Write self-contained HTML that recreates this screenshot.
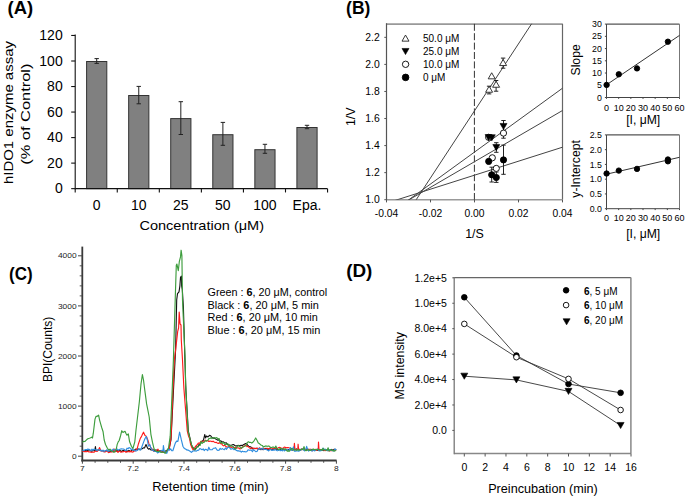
<!DOCTYPE html>
<html><head><meta charset="utf-8"><style>
html,body{margin:0;padding:0;background:#fff;}
svg{display:block;}
text{font-family:"Liberation Sans",sans-serif;}
</style></head><body>
<svg width="685" height="498" viewBox="0 0 685 498">
<rect width="685" height="498" fill="#fff"/>
<text x="7.60" y="13.90" font-size="17.5" text-anchor="start" font-weight="bold" fill="#000"  textLength="25.6" lengthAdjust="spacingAndGlyphs">(A)</text>
<rect x="86.60" y="61.50" width="20.2" height="127.15" fill="#808080" stroke="#333" stroke-width="1"/>
<line x1="96.70" y1="58.60" x2="96.70" y2="63.40" stroke="#222" stroke-width="1" />
<line x1="94.50" y1="58.60" x2="98.90" y2="58.60" stroke="#222" stroke-width="1" />
<line x1="94.50" y1="63.40" x2="98.90" y2="63.40" stroke="#222" stroke-width="1" />
<rect x="128.66" y="95.50" width="20.2" height="93.15" fill="#808080" stroke="#333" stroke-width="1"/>
<line x1="138.76" y1="86.40" x2="138.76" y2="103.80" stroke="#222" stroke-width="1" />
<line x1="136.56" y1="86.40" x2="140.96" y2="86.40" stroke="#222" stroke-width="1" />
<line x1="136.56" y1="103.80" x2="140.96" y2="103.80" stroke="#222" stroke-width="1" />
<rect x="170.72" y="118.60" width="20.2" height="70.05" fill="#808080" stroke="#333" stroke-width="1"/>
<line x1="180.82" y1="101.70" x2="180.82" y2="134.50" stroke="#222" stroke-width="1" />
<line x1="178.62" y1="101.70" x2="183.02" y2="101.70" stroke="#222" stroke-width="1" />
<line x1="178.62" y1="134.50" x2="183.02" y2="134.50" stroke="#222" stroke-width="1" />
<rect x="212.78" y="134.70" width="20.2" height="53.95" fill="#808080" stroke="#333" stroke-width="1"/>
<line x1="222.88" y1="122.40" x2="222.88" y2="145.30" stroke="#222" stroke-width="1" />
<line x1="220.68" y1="122.40" x2="225.08" y2="122.40" stroke="#222" stroke-width="1" />
<line x1="220.68" y1="145.30" x2="225.08" y2="145.30" stroke="#222" stroke-width="1" />
<rect x="254.84" y="149.70" width="20.2" height="38.95" fill="#808080" stroke="#333" stroke-width="1"/>
<line x1="264.94" y1="144.30" x2="264.94" y2="153.30" stroke="#222" stroke-width="1" />
<line x1="262.74" y1="144.30" x2="267.14" y2="144.30" stroke="#222" stroke-width="1" />
<line x1="262.74" y1="153.30" x2="267.14" y2="153.30" stroke="#222" stroke-width="1" />
<rect x="296.90" y="127.50" width="20.2" height="61.15" fill="#808080" stroke="#333" stroke-width="1"/>
<line x1="307.00" y1="125.30" x2="307.00" y2="128.70" stroke="#222" stroke-width="1" />
<line x1="304.80" y1="125.30" x2="309.20" y2="125.30" stroke="#222" stroke-width="1" />
<line x1="304.80" y1="128.70" x2="309.20" y2="128.70" stroke="#222" stroke-width="1" />
<line x1="75.20" y1="34.60" x2="75.20" y2="189.15" stroke="#111" stroke-width="1.1" />
<line x1="75.20" y1="188.65" x2="327.56" y2="188.65" stroke="#111" stroke-width="1.1" />
<line x1="71.20" y1="188.65" x2="75.20" y2="188.65" stroke="#111" stroke-width="1.1" />
<text x="62.70" y="193.15" font-size="14" text-anchor="end" font-weight="normal" fill="#000" >0</text>
<line x1="71.20" y1="163.12" x2="75.20" y2="163.12" stroke="#111" stroke-width="1.1" />
<text x="62.70" y="167.62" font-size="14" text-anchor="end" font-weight="normal" fill="#000" >20</text>
<line x1="71.20" y1="137.59" x2="75.20" y2="137.59" stroke="#111" stroke-width="1.1" />
<text x="62.70" y="142.09" font-size="14" text-anchor="end" font-weight="normal" fill="#000" >40</text>
<line x1="71.20" y1="112.06" x2="75.20" y2="112.06" stroke="#111" stroke-width="1.1" />
<text x="62.70" y="116.56" font-size="14" text-anchor="end" font-weight="normal" fill="#000" >60</text>
<line x1="71.20" y1="86.53" x2="75.20" y2="86.53" stroke="#111" stroke-width="1.1" />
<text x="62.70" y="91.03" font-size="14" text-anchor="end" font-weight="normal" fill="#000" >80</text>
<line x1="71.20" y1="61.00" x2="75.20" y2="61.00" stroke="#111" stroke-width="1.1" />
<text x="62.70" y="65.50" font-size="14" text-anchor="end" font-weight="normal" fill="#000" >100</text>
<line x1="71.20" y1="35.47" x2="75.20" y2="35.47" stroke="#111" stroke-width="1.1" />
<text x="62.70" y="39.97" font-size="14" text-anchor="end" font-weight="normal" fill="#000" >120</text>
<line x1="75.20" y1="188.65" x2="75.20" y2="192.45" stroke="#111" stroke-width="1.1" />
<line x1="117.26" y1="188.65" x2="117.26" y2="192.45" stroke="#111" stroke-width="1.1" />
<line x1="159.32" y1="188.65" x2="159.32" y2="192.45" stroke="#111" stroke-width="1.1" />
<line x1="201.38" y1="188.65" x2="201.38" y2="192.45" stroke="#111" stroke-width="1.1" />
<line x1="243.44" y1="188.65" x2="243.44" y2="192.45" stroke="#111" stroke-width="1.1" />
<line x1="285.50" y1="188.65" x2="285.50" y2="192.45" stroke="#111" stroke-width="1.1" />
<line x1="327.56" y1="188.65" x2="327.56" y2="192.45" stroke="#111" stroke-width="1.1" />
<text x="96.70" y="209.90" font-size="14" text-anchor="middle" font-weight="normal" fill="#000" >0</text>
<text x="138.76" y="209.90" font-size="14" text-anchor="middle" font-weight="normal" fill="#000" >10</text>
<text x="180.82" y="209.90" font-size="14" text-anchor="middle" font-weight="normal" fill="#000" >25</text>
<text x="222.88" y="209.90" font-size="14" text-anchor="middle" font-weight="normal" fill="#000" >50</text>
<text x="264.94" y="209.90" font-size="14" text-anchor="middle" font-weight="normal" fill="#000" >100</text>
<text x="307.00" y="209.90" font-size="14" text-anchor="middle" font-weight="normal" fill="#000" >Epa.</text>
<text x="201.75" y="229.70" font-size="13.5" text-anchor="middle" font-weight="normal" fill="#000"  textLength="124.6" lengthAdjust="spacingAndGlyphs">Concentration (μM)</text>
<text x="0.00" y="0.00" font-size="13.5" text-anchor="middle" font-weight="normal" fill="#000" transform="translate(12.5,112.55) rotate(-90)" textLength="143.0" lengthAdjust="spacingAndGlyphs">hIDO1 enzyme assay</text>
<text x="0.00" y="0.00" font-size="13.5" text-anchor="middle" font-weight="normal" fill="#000" transform="translate(29.7,114.2) rotate(-90)" textLength="101.3" lengthAdjust="spacingAndGlyphs">(% of Control)</text>
<text x="346.10" y="13.90" font-size="17.5" text-anchor="start" font-weight="bold" fill="#000"  textLength="24.2" lengthAdjust="spacingAndGlyphs">(B)</text>
<line x1="386.50" y1="24.10" x2="562.50" y2="24.10" stroke="#999" stroke-width="1.6" />
<line x1="562.50" y1="23.80" x2="562.50" y2="199.70" stroke="#666" stroke-width="1.2" />
<line x1="386.50" y1="199.70" x2="562.50" y2="199.70" stroke="#999" stroke-width="1.5" />
<line x1="386.50" y1="23.20" x2="386.50" y2="200.30" stroke="#555" stroke-width="1.2" />
<line x1="384.30" y1="199.70" x2="386.50" y2="199.70" stroke="#555" stroke-width="1" />
<text x="379.70" y="203.30" font-size="10.4" text-anchor="end" font-weight="normal" fill="#000" >1.0</text>
<line x1="384.30" y1="172.64" x2="386.50" y2="172.64" stroke="#555" stroke-width="1" />
<text x="379.70" y="176.24" font-size="10.4" text-anchor="end" font-weight="normal" fill="#000" >1.2</text>
<line x1="384.30" y1="145.58" x2="386.50" y2="145.58" stroke="#555" stroke-width="1" />
<text x="379.70" y="149.18" font-size="10.4" text-anchor="end" font-weight="normal" fill="#000" >1.4</text>
<line x1="384.30" y1="118.52" x2="386.50" y2="118.52" stroke="#555" stroke-width="1" />
<text x="379.70" y="122.12" font-size="10.4" text-anchor="end" font-weight="normal" fill="#000" >1.6</text>
<line x1="384.30" y1="91.46" x2="386.50" y2="91.46" stroke="#555" stroke-width="1" />
<text x="379.70" y="95.06" font-size="10.4" text-anchor="end" font-weight="normal" fill="#000" >1.8</text>
<line x1="384.30" y1="64.40" x2="386.50" y2="64.40" stroke="#555" stroke-width="1" />
<text x="379.70" y="68.00" font-size="10.4" text-anchor="end" font-weight="normal" fill="#000" >2.0</text>
<line x1="384.30" y1="37.34" x2="386.50" y2="37.34" stroke="#555" stroke-width="1" />
<text x="379.70" y="40.94" font-size="10.4" text-anchor="end" font-weight="normal" fill="#000" >2.2</text>
<line x1="386.50" y1="199.70" x2="386.50" y2="202.40" stroke="#555" stroke-width="1" />
<text x="386.50" y="216.90" font-size="10.3" text-anchor="middle" font-weight="normal" fill="#000" >-0.04</text>
<line x1="430.50" y1="199.70" x2="430.50" y2="202.40" stroke="#555" stroke-width="1" />
<text x="430.50" y="216.90" font-size="10.3" text-anchor="middle" font-weight="normal" fill="#000" >-0.02</text>
<line x1="474.50" y1="199.70" x2="474.50" y2="202.40" stroke="#555" stroke-width="1" />
<text x="474.50" y="216.90" font-size="10.3" text-anchor="middle" font-weight="normal" fill="#000" >0.00</text>
<line x1="518.50" y1="199.70" x2="518.50" y2="202.40" stroke="#555" stroke-width="1" />
<text x="518.50" y="216.90" font-size="10.3" text-anchor="middle" font-weight="normal" fill="#000" >0.02</text>
<line x1="562.50" y1="199.70" x2="562.50" y2="202.40" stroke="#555" stroke-width="1" />
<text x="562.50" y="216.90" font-size="10.3" text-anchor="middle" font-weight="normal" fill="#000" >0.04</text>
<text x="474.50" y="238.10" font-size="12.4" text-anchor="middle" font-weight="normal" fill="#000" >1/S</text>
<text x="0.00" y="0.00" font-size="12.4" text-anchor="middle" font-weight="normal" fill="#000" transform="translate(355.1,116.8) rotate(-90)">1/V</text>
<line x1="474.40" y1="23.80" x2="474.40" y2="199.70" stroke="#333" stroke-width="1" stroke-dasharray="7 2.4"/>
<clipPath id="cb"><rect x="386.5" y="23.8" width="176.0" height="175.89999999999998"/></clipPath>
<g clip-path="url(#cb)">
<line x1="67.20" y1="304.70" x2="892.70" y2="42.20" stroke="#444" stroke-width="1" />
<line x1="102.60" y1="378.10" x2="869.10" y2="-67.90" stroke="#444" stroke-width="1" />
<line x1="101.70" y1="422.70" x2="869.70" y2="-134.80" stroke="#444" stroke-width="1" />
<line x1="185.40" y1="551.50" x2="762.40" y2="-328.00" stroke="#444" stroke-width="1" />
</g>
<line x1="489.10" y1="86.20" x2="489.10" y2="93.90" stroke="#222" stroke-width="1" />
<line x1="486.90" y1="86.20" x2="491.30" y2="86.20" stroke="#222" stroke-width="1" />
<line x1="486.90" y1="93.90" x2="491.30" y2="93.90" stroke="#222" stroke-width="1" />
<line x1="496.10" y1="80.50" x2="496.10" y2="91.20" stroke="#222" stroke-width="1" />
<line x1="493.90" y1="80.50" x2="498.30" y2="80.50" stroke="#222" stroke-width="1" />
<line x1="493.90" y1="91.20" x2="498.30" y2="91.20" stroke="#222" stroke-width="1" />
<line x1="503.10" y1="58.10" x2="503.10" y2="68.20" stroke="#222" stroke-width="1" />
<line x1="500.90" y1="58.10" x2="505.30" y2="58.10" stroke="#222" stroke-width="1" />
<line x1="500.90" y1="68.20" x2="505.30" y2="68.20" stroke="#222" stroke-width="1" />
<line x1="496.30" y1="142.70" x2="496.30" y2="152.30" stroke="#222" stroke-width="1" />
<line x1="494.10" y1="142.70" x2="498.50" y2="142.70" stroke="#222" stroke-width="1" />
<line x1="494.10" y1="152.30" x2="498.50" y2="152.30" stroke="#222" stroke-width="1" />
<line x1="503.50" y1="120.50" x2="503.50" y2="138.20" stroke="#222" stroke-width="1" />
<line x1="501.30" y1="120.50" x2="505.70" y2="120.50" stroke="#222" stroke-width="1" />
<line x1="501.30" y1="138.20" x2="505.70" y2="138.20" stroke="#222" stroke-width="1" />
<line x1="503.50" y1="145.10" x2="503.50" y2="174.30" stroke="#222" stroke-width="1" />
<line x1="501.30" y1="145.10" x2="505.70" y2="145.10" stroke="#222" stroke-width="1" />
<line x1="501.30" y1="174.30" x2="505.70" y2="174.30" stroke="#222" stroke-width="1" />
<line x1="491.70" y1="167.20" x2="491.70" y2="182.00" stroke="#222" stroke-width="1" />
<line x1="489.50" y1="167.20" x2="493.90" y2="167.20" stroke="#222" stroke-width="1" />
<line x1="489.50" y1="182.00" x2="493.90" y2="182.00" stroke="#222" stroke-width="1" />
<line x1="496.30" y1="172.00" x2="496.30" y2="182.40" stroke="#222" stroke-width="1" />
<line x1="494.10" y1="172.00" x2="498.50" y2="172.00" stroke="#222" stroke-width="1" />
<line x1="494.10" y1="182.40" x2="498.50" y2="182.40" stroke="#222" stroke-width="1" />
<polygon points="485.60,92.25 492.60,92.25 489.10,86.16" fill="#fff" stroke="#222" stroke-width="0.9"/>
<polygon points="488.20,78.84 495.20,78.84 491.70,72.75" fill="#fff" stroke="#222" stroke-width="0.9"/>
<polygon points="492.60,87.25 499.60,87.25 496.10,81.16" fill="#fff" stroke="#222" stroke-width="0.9"/>
<polygon points="499.60,65.55 506.60,65.55 503.10,59.45" fill="#fff" stroke="#222" stroke-width="0.9"/>
<circle cx="488.60" cy="137.30" r="3.1" fill="#fff" stroke="#000" stroke-width="0.9"/>
<circle cx="503.50" cy="133.10" r="3.1" fill="#fff" stroke="#000" stroke-width="0.9"/>
<circle cx="492.30" cy="157.80" r="3.1" fill="#fff" stroke="#000" stroke-width="0.9"/>
<circle cx="496.30" cy="168.40" r="3.1" fill="#fff" stroke="#000" stroke-width="0.9"/>
<polygon points="485.10,134.56 492.10,134.56 488.60,140.64" fill="#000" stroke="#000" stroke-width="0.6"/>
<polygon points="488.30,134.76 495.30,134.76 491.80,140.84" fill="#000" stroke="#000" stroke-width="0.6"/>
<polygon points="492.80,144.56 499.80,144.56 496.30,150.64" fill="#000" stroke="#000" stroke-width="0.6"/>
<polygon points="500.00,123.45 507.00,123.45 503.50,129.54" fill="#000" stroke="#000" stroke-width="0.6"/>
<circle cx="488.70" cy="161.40" r="3.1" fill="#000" stroke="#000" stroke-width="0.9"/>
<circle cx="503.50" cy="159.90" r="3.1" fill="#000" stroke="#000" stroke-width="0.9"/>
<circle cx="491.70" cy="174.80" r="3.1" fill="#000" stroke="#000" stroke-width="0.9"/>
<circle cx="496.30" cy="177.50" r="3.1" fill="#000" stroke="#000" stroke-width="0.9"/>
<polygon points="402.00,41.15 409.00,41.15 405.50,35.05" fill="#fff" stroke="#222" stroke-width="0.9"/>
<polygon points="402.00,48.45 409.00,48.45 405.50,54.55" fill="#000" stroke="#000" stroke-width="0.6"/>
<circle cx="405.60" cy="64.30" r="3.2" fill="#fff" stroke="#000" stroke-width="0.9"/>
<circle cx="405.60" cy="77.40" r="3.3" fill="#000" stroke="#000" stroke-width="0.9"/>
<text x="423.00" y="41.90" font-size="10" text-anchor="start" font-weight="normal" fill="#000" >50.0 μM</text>
<text x="423.00" y="54.90" font-size="10" text-anchor="start" font-weight="normal" fill="#000" >25.0 μM</text>
<text x="423.00" y="67.90" font-size="10" text-anchor="start" font-weight="normal" fill="#000" >10.0 μM</text>
<text x="423.00" y="80.90" font-size="10" text-anchor="start" font-weight="normal" fill="#000" >0 μM</text>
<line x1="606.50" y1="24.10" x2="679.50" y2="24.10" stroke="#555" stroke-width="1.1" />
<line x1="679.50" y1="24.10" x2="679.50" y2="97.50" stroke="#777" stroke-width="1" />
<line x1="606.50" y1="97.50" x2="679.50" y2="97.50" stroke="#444" stroke-width="1" />
<line x1="606.50" y1="24.10" x2="606.50" y2="97.50" stroke="#444" stroke-width="1" />
<line x1="604.90" y1="97.50" x2="606.50" y2="97.50" stroke="#444" stroke-width="1" />
<text x="601.90" y="100.60" font-size="8.8" text-anchor="end" font-weight="normal" fill="#000" >0</text>
<line x1="604.90" y1="85.27" x2="606.50" y2="85.27" stroke="#444" stroke-width="1" />
<text x="601.90" y="88.37" font-size="8.8" text-anchor="end" font-weight="normal" fill="#000" >5</text>
<line x1="604.90" y1="73.03" x2="606.50" y2="73.03" stroke="#444" stroke-width="1" />
<text x="601.90" y="76.13" font-size="8.8" text-anchor="end" font-weight="normal" fill="#000" >10</text>
<line x1="604.90" y1="60.80" x2="606.50" y2="60.80" stroke="#444" stroke-width="1" />
<text x="601.90" y="63.90" font-size="8.8" text-anchor="end" font-weight="normal" fill="#000" >15</text>
<line x1="604.90" y1="48.57" x2="606.50" y2="48.57" stroke="#444" stroke-width="1" />
<text x="601.90" y="51.67" font-size="8.8" text-anchor="end" font-weight="normal" fill="#000" >20</text>
<line x1="604.90" y1="36.33" x2="606.50" y2="36.33" stroke="#444" stroke-width="1" />
<text x="601.90" y="39.43" font-size="8.8" text-anchor="end" font-weight="normal" fill="#000" >25</text>
<line x1="604.90" y1="24.10" x2="606.50" y2="24.10" stroke="#444" stroke-width="1" />
<text x="601.90" y="27.20" font-size="8.8" text-anchor="end" font-weight="normal" fill="#000" >30</text>
<line x1="606.50" y1="97.50" x2="606.50" y2="98.90" stroke="#444" stroke-width="1" />
<text x="606.50" y="110.90" font-size="9" text-anchor="middle" font-weight="normal" fill="#000" >0</text>
<line x1="618.67" y1="97.50" x2="618.67" y2="98.90" stroke="#444" stroke-width="1" />
<text x="618.67" y="110.90" font-size="9" text-anchor="middle" font-weight="normal" fill="#000" >10</text>
<line x1="630.83" y1="97.50" x2="630.83" y2="98.90" stroke="#444" stroke-width="1" />
<text x="630.83" y="110.90" font-size="9" text-anchor="middle" font-weight="normal" fill="#000" >20</text>
<line x1="643.00" y1="97.50" x2="643.00" y2="98.90" stroke="#444" stroke-width="1" />
<text x="643.00" y="110.90" font-size="9" text-anchor="middle" font-weight="normal" fill="#000" >30</text>
<line x1="655.17" y1="97.50" x2="655.17" y2="98.90" stroke="#444" stroke-width="1" />
<text x="655.17" y="110.90" font-size="9" text-anchor="middle" font-weight="normal" fill="#000" >40</text>
<line x1="667.33" y1="97.50" x2="667.33" y2="98.90" stroke="#444" stroke-width="1" />
<text x="667.33" y="110.90" font-size="9" text-anchor="middle" font-weight="normal" fill="#000" >50</text>
<line x1="679.50" y1="97.50" x2="679.50" y2="98.90" stroke="#444" stroke-width="1" />
<text x="679.50" y="110.90" font-size="9" text-anchor="middle" font-weight="normal" fill="#000" >60</text>
<text x="643.20" y="124.10" font-size="12.2" text-anchor="middle" font-weight="normal" fill="#000" >[I, μM]</text>
<text x="0.00" y="0.00" font-size="12.2" text-anchor="middle" font-weight="normal" fill="#000" transform="translate(580.1,59.9) rotate(-90)">Slope</text>
<line x1="606.50" y1="84.80" x2="679.50" y2="35.40" stroke="#333" stroke-width="1" />
<circle cx="606.60" cy="84.90" r="2.7" fill="#000" stroke="#000" stroke-width="0.9"/>
<circle cx="618.80" cy="74.30" r="2.7" fill="#000" stroke="#000" stroke-width="0.9"/>
<circle cx="637.00" cy="68.40" r="2.7" fill="#000" stroke="#000" stroke-width="0.9"/>
<circle cx="667.90" cy="41.70" r="2.7" fill="#000" stroke="#000" stroke-width="0.9"/>
<line x1="606.50" y1="134.90" x2="679.50" y2="134.90" stroke="#555" stroke-width="1.1" />
<line x1="679.50" y1="134.90" x2="679.50" y2="208.70" stroke="#777" stroke-width="1" />
<line x1="606.50" y1="208.70" x2="679.50" y2="208.70" stroke="#444" stroke-width="1" />
<line x1="606.50" y1="134.90" x2="606.50" y2="208.70" stroke="#444" stroke-width="1" />
<line x1="604.90" y1="208.70" x2="606.50" y2="208.70" stroke="#444" stroke-width="1" />
<text x="601.90" y="211.80" font-size="8.8" text-anchor="end" font-weight="normal" fill="#000" >0.0</text>
<line x1="604.90" y1="193.94" x2="606.50" y2="193.94" stroke="#444" stroke-width="1" />
<text x="601.90" y="197.04" font-size="8.8" text-anchor="end" font-weight="normal" fill="#000" >0.5</text>
<line x1="604.90" y1="179.18" x2="606.50" y2="179.18" stroke="#444" stroke-width="1" />
<text x="601.90" y="182.28" font-size="8.8" text-anchor="end" font-weight="normal" fill="#000" >1.0</text>
<line x1="604.90" y1="164.42" x2="606.50" y2="164.42" stroke="#444" stroke-width="1" />
<text x="601.90" y="167.52" font-size="8.8" text-anchor="end" font-weight="normal" fill="#000" >1.5</text>
<line x1="604.90" y1="149.66" x2="606.50" y2="149.66" stroke="#444" stroke-width="1" />
<text x="601.90" y="152.76" font-size="8.8" text-anchor="end" font-weight="normal" fill="#000" >2.0</text>
<line x1="604.90" y1="134.90" x2="606.50" y2="134.90" stroke="#444" stroke-width="1" />
<text x="601.90" y="138.00" font-size="8.8" text-anchor="end" font-weight="normal" fill="#000" >2.5</text>
<line x1="606.50" y1="208.70" x2="606.50" y2="210.10" stroke="#444" stroke-width="1" />
<text x="606.50" y="220.90" font-size="9" text-anchor="middle" font-weight="normal" fill="#000" >0</text>
<line x1="618.67" y1="208.70" x2="618.67" y2="210.10" stroke="#444" stroke-width="1" />
<text x="618.67" y="220.90" font-size="9" text-anchor="middle" font-weight="normal" fill="#000" >10</text>
<line x1="630.83" y1="208.70" x2="630.83" y2="210.10" stroke="#444" stroke-width="1" />
<text x="630.83" y="220.90" font-size="9" text-anchor="middle" font-weight="normal" fill="#000" >20</text>
<line x1="643.00" y1="208.70" x2="643.00" y2="210.10" stroke="#444" stroke-width="1" />
<text x="643.00" y="220.90" font-size="9" text-anchor="middle" font-weight="normal" fill="#000" >30</text>
<line x1="655.17" y1="208.70" x2="655.17" y2="210.10" stroke="#444" stroke-width="1" />
<text x="655.17" y="220.90" font-size="9" text-anchor="middle" font-weight="normal" fill="#000" >40</text>
<line x1="667.33" y1="208.70" x2="667.33" y2="210.10" stroke="#444" stroke-width="1" />
<text x="667.33" y="220.90" font-size="9" text-anchor="middle" font-weight="normal" fill="#000" >50</text>
<line x1="679.50" y1="208.70" x2="679.50" y2="210.10" stroke="#444" stroke-width="1" />
<text x="679.50" y="220.90" font-size="9" text-anchor="middle" font-weight="normal" fill="#000" >60</text>
<text x="643.20" y="238.30" font-size="12.2" text-anchor="middle" font-weight="normal" fill="#000" >[I, μM]</text>
<text x="0.00" y="0.00" font-size="12.2" text-anchor="middle" font-weight="normal" fill="#000" transform="translate(580.1,168.9) rotate(-90)">y-Intercept</text>
<line x1="606.50" y1="174.20" x2="679.50" y2="157.30" stroke="#333" stroke-width="1" />
<circle cx="606.60" cy="173.50" r="2.7" fill="#000" stroke="#000" stroke-width="0.9"/>
<circle cx="618.80" cy="170.60" r="2.7" fill="#000" stroke="#000" stroke-width="0.9"/>
<circle cx="637.00" cy="168.90" r="2.7" fill="#000" stroke="#000" stroke-width="0.9"/>
<circle cx="667.90" cy="159.50" r="2.7" fill="#000" stroke="#000" stroke-width="0.9"/>
<circle cx="667.90" cy="161.30" r="2.7" fill="#000" stroke="#000" stroke-width="0.9"/>
<text x="9.00" y="280.40" font-size="17.5" text-anchor="start" font-weight="bold" fill="#000"  textLength="23.6" lengthAdjust="spacingAndGlyphs">(C)</text>
<line x1="82.30" y1="246.60" x2="82.30" y2="461.50" stroke="#3a3a3a" stroke-width="1.8" />
<line x1="81.40" y1="460.50" x2="336.60" y2="460.50" stroke="#3a3a3a" stroke-width="1.8" />
<line x1="78.00" y1="456.20" x2="82.30" y2="456.20" stroke="#444" stroke-width="1" />
<text x="76.60" y="458.80" font-size="7.5" text-anchor="end" font-weight="normal" fill="#222"  textLength="4.67" lengthAdjust="spacingAndGlyphs">0</text>
<line x1="79.70" y1="446.18" x2="82.30" y2="446.18" stroke="#444" stroke-width="0.9" />
<line x1="79.70" y1="436.16" x2="82.30" y2="436.16" stroke="#444" stroke-width="0.9" />
<line x1="79.70" y1="426.14" x2="82.30" y2="426.14" stroke="#444" stroke-width="0.9" />
<line x1="79.70" y1="416.12" x2="82.30" y2="416.12" stroke="#444" stroke-width="0.9" />
<line x1="78.00" y1="406.10" x2="82.30" y2="406.10" stroke="#444" stroke-width="1" />
<text x="76.60" y="408.70" font-size="7.5" text-anchor="end" font-weight="normal" fill="#222"  textLength="18.68" lengthAdjust="spacingAndGlyphs">1000</text>
<line x1="79.70" y1="396.08" x2="82.30" y2="396.08" stroke="#444" stroke-width="0.9" />
<line x1="79.70" y1="386.06" x2="82.30" y2="386.06" stroke="#444" stroke-width="0.9" />
<line x1="79.70" y1="376.04" x2="82.30" y2="376.04" stroke="#444" stroke-width="0.9" />
<line x1="79.70" y1="366.02" x2="82.30" y2="366.02" stroke="#444" stroke-width="0.9" />
<line x1="78.00" y1="356.00" x2="82.30" y2="356.00" stroke="#444" stroke-width="1" />
<text x="76.60" y="358.60" font-size="7.5" text-anchor="end" font-weight="normal" fill="#222"  textLength="18.68" lengthAdjust="spacingAndGlyphs">2000</text>
<line x1="79.70" y1="345.98" x2="82.30" y2="345.98" stroke="#444" stroke-width="0.9" />
<line x1="79.70" y1="335.96" x2="82.30" y2="335.96" stroke="#444" stroke-width="0.9" />
<line x1="79.70" y1="325.94" x2="82.30" y2="325.94" stroke="#444" stroke-width="0.9" />
<line x1="79.70" y1="315.92" x2="82.30" y2="315.92" stroke="#444" stroke-width="0.9" />
<line x1="78.00" y1="305.90" x2="82.30" y2="305.90" stroke="#444" stroke-width="1" />
<text x="76.60" y="308.50" font-size="7.5" text-anchor="end" font-weight="normal" fill="#222"  textLength="18.68" lengthAdjust="spacingAndGlyphs">3000</text>
<line x1="79.70" y1="295.88" x2="82.30" y2="295.88" stroke="#444" stroke-width="0.9" />
<line x1="79.70" y1="285.86" x2="82.30" y2="285.86" stroke="#444" stroke-width="0.9" />
<line x1="79.70" y1="275.84" x2="82.30" y2="275.84" stroke="#444" stroke-width="0.9" />
<line x1="79.70" y1="265.82" x2="82.30" y2="265.82" stroke="#444" stroke-width="0.9" />
<line x1="78.00" y1="255.80" x2="82.30" y2="255.80" stroke="#444" stroke-width="1" />
<text x="76.60" y="258.40" font-size="7.5" text-anchor="end" font-weight="normal" fill="#222"  textLength="18.68" lengthAdjust="spacingAndGlyphs">4000</text>
<line x1="82.40" y1="460.50" x2="82.40" y2="463.70" stroke="#444" stroke-width="1" />
<text x="82.40" y="471.30" font-size="7.5" text-anchor="middle" font-weight="normal" fill="#222"  textLength="4.67" lengthAdjust="spacingAndGlyphs">7</text>
<line x1="95.10" y1="460.50" x2="95.10" y2="462.80" stroke="#444" stroke-width="0.9" />
<line x1="107.80" y1="460.50" x2="107.80" y2="462.80" stroke="#444" stroke-width="0.9" />
<line x1="120.50" y1="460.50" x2="120.50" y2="462.80" stroke="#444" stroke-width="0.9" />
<line x1="133.20" y1="460.50" x2="133.20" y2="463.70" stroke="#444" stroke-width="1" />
<text x="133.20" y="471.30" font-size="7.5" text-anchor="middle" font-weight="normal" fill="#222"  textLength="11.68" lengthAdjust="spacingAndGlyphs">7.2</text>
<line x1="145.90" y1="460.50" x2="145.90" y2="462.80" stroke="#444" stroke-width="0.9" />
<line x1="158.60" y1="460.50" x2="158.60" y2="462.80" stroke="#444" stroke-width="0.9" />
<line x1="171.30" y1="460.50" x2="171.30" y2="462.80" stroke="#444" stroke-width="0.9" />
<line x1="184.00" y1="460.50" x2="184.00" y2="463.70" stroke="#444" stroke-width="1" />
<text x="184.00" y="471.30" font-size="7.5" text-anchor="middle" font-weight="normal" fill="#222"  textLength="11.68" lengthAdjust="spacingAndGlyphs">7.4</text>
<line x1="196.70" y1="460.50" x2="196.70" y2="462.80" stroke="#444" stroke-width="0.9" />
<line x1="209.40" y1="460.50" x2="209.40" y2="462.80" stroke="#444" stroke-width="0.9" />
<line x1="222.10" y1="460.50" x2="222.10" y2="462.80" stroke="#444" stroke-width="0.9" />
<line x1="234.80" y1="460.50" x2="234.80" y2="463.70" stroke="#444" stroke-width="1" />
<text x="234.80" y="471.30" font-size="7.5" text-anchor="middle" font-weight="normal" fill="#222"  textLength="11.68" lengthAdjust="spacingAndGlyphs">7.6</text>
<line x1="247.50" y1="460.50" x2="247.50" y2="462.80" stroke="#444" stroke-width="0.9" />
<line x1="260.20" y1="460.50" x2="260.20" y2="462.80" stroke="#444" stroke-width="0.9" />
<line x1="272.90" y1="460.50" x2="272.90" y2="462.80" stroke="#444" stroke-width="0.9" />
<line x1="285.60" y1="460.50" x2="285.60" y2="463.70" stroke="#444" stroke-width="1" />
<text x="285.60" y="471.30" font-size="7.5" text-anchor="middle" font-weight="normal" fill="#222"  textLength="11.68" lengthAdjust="spacingAndGlyphs">7.8</text>
<line x1="298.30" y1="460.50" x2="298.30" y2="462.80" stroke="#444" stroke-width="0.9" />
<line x1="311.00" y1="460.50" x2="311.00" y2="462.80" stroke="#444" stroke-width="0.9" />
<line x1="323.70" y1="460.50" x2="323.70" y2="462.80" stroke="#444" stroke-width="0.9" />
<line x1="336.40" y1="460.50" x2="336.40" y2="463.70" stroke="#444" stroke-width="1" />
<text x="336.40" y="471.30" font-size="7.5" text-anchor="middle" font-weight="normal" fill="#222"  textLength="4.67" lengthAdjust="spacingAndGlyphs">8</text>
<text x="0.00" y="0.00" font-size="12.0" text-anchor="middle" font-weight="normal" fill="#000" transform="translate(51.7,349.4) rotate(-90)">BPI(Counts)</text>
<text x="152.30" y="491.10" font-size="12.8" text-anchor="start" font-weight="normal" fill="#000"  textLength="116.2" lengthAdjust="spacingAndGlyphs">Retention time (min)</text>
<text x="207.6" y="295.6" font-size="10.2" fill="#000" textLength="119.6" lengthAdjust="spacingAndGlyphs">Green : <tspan font-weight="bold">6</tspan>, 20 μM, control</text>
<text x="207.6" y="308.5" font-size="10.2" fill="#000" textLength="111.2" lengthAdjust="spacingAndGlyphs">Black : <tspan font-weight="bold">6</tspan>, 20 μM, 5 min</text>
<text x="207.6" y="321.4" font-size="10.2" fill="#000" textLength="110.1" lengthAdjust="spacingAndGlyphs">Red : <tspan font-weight="bold">6</tspan>, 20 μM, 10 min</text>
<text x="207.6" y="334.1" font-size="10.2" fill="#000" textLength="112.7" lengthAdjust="spacingAndGlyphs">Blue : <tspan font-weight="bold">6</tspan>, 20 μM, 15 min</text>
<polyline points="82.40,450.50 83.43,450.42 84.47,451.18 85.50,450.51 86.53,450.00 87.57,450.71 88.60,449.85 89.63,449.85 90.67,450.81 91.70,451.27 92.73,450.75 93.77,449.95 94.80,450.50 95.40,446.50 96.00,450.50 97.00,450.58 98.00,450.08 99.00,449.86 100.00,450.55 101.00,450.71 102.00,450.71 103.00,450.68 104.00,451.58 105.00,451.37 106.00,450.56 107.00,450.56 108.00,451.35 109.00,451.52 110.00,451.00 111.00,451.73 112.00,450.20 113.00,451.66 114.00,451.77 115.00,450.32 116.00,451.45 117.00,450.34 118.00,451.74 119.00,450.39 120.00,450.36 121.00,451.48 122.00,451.09 123.00,450.51 124.00,450.41 125.00,450.39 126.00,450.54 127.00,451.75 128.00,450.69 129.00,450.54 130.00,451.00 131.00,451.35 132.00,449.93 133.00,449.90 134.00,450.58 135.00,449.60 136.00,449.06 137.00,449.50 138.00,448.96 139.00,449.04 140.00,449.86 141.00,449.00 142.17,448.79 143.33,447.83 144.50,448.00 146.00,444.50 147.50,448.00 148.62,449.15 149.75,448.60 150.88,449.88 152.00,450.00 153.00,449.67 154.00,450.92 155.00,450.34 156.00,449.88 157.00,450.35 158.00,450.53 159.00,451.23 160.00,450.71 161.00,450.69 162.00,451.63 163.00,451.88 164.00,452.51 165.00,452.00 166.00,450.48 167.00,450.41 168.00,449.23 169.00,449.00 170.00,444.62 171.00,440.00 172.25,415.00 173.50,390.00 174.55,370.00 175.60,350.00 176.70,300.00 177.50,293.60 179.00,291.80 179.90,285.80 180.50,277.30 181.40,276.10 181.60,285.80 182.30,289.40 183.40,307.00 184.90,360.00 185.90,390.00 187.10,410.50 188.30,431.00 189.37,435.67 190.43,440.11 191.50,445.00 192.63,447.40 193.77,448.57 194.90,449.90 195.92,448.14 196.94,446.77 197.96,446.68 198.98,444.41 200.00,444.00 201.17,442.64 202.33,441.04 203.50,440.00 204.80,434.50 205.60,438.00 206.50,436.00 208.00,437.00 209.40,435.40 210.70,435.77 212.00,437.50 213.25,438.13 214.50,438.00 215.50,438.98 216.50,439.20 217.60,440.10 218.70,439.83 219.80,441.14 220.90,440.80 222.00,441.95 223.10,441.80 224.18,442.53 225.27,443.00 226.35,442.73 227.43,444.72 228.52,444.83 229.60,445.00 230.64,445.48 231.68,445.10 232.72,444.63 233.76,444.65 234.80,445.47 235.84,445.92 236.88,445.88 237.92,445.41 238.96,445.58 240.00,446.00 241.10,445.14 242.20,445.88 243.30,444.76 244.40,444.19 245.50,443.60 246.60,443.70 247.64,445.11 248.68,446.15 249.72,446.59 250.76,446.80 251.80,448.30 252.83,448.93 253.85,448.81 254.88,448.21 255.90,448.57 256.93,448.28 257.95,449.03 258.98,448.62 260.00,449.00 261.00,449.78 262.01,448.35 263.01,449.64 264.01,449.39 265.01,448.76 266.02,448.31 267.02,449.02 268.02,449.63 269.02,448.54 270.03,449.34 271.03,449.35 272.03,449.65 273.03,449.47 274.04,449.14 275.04,448.41 276.04,449.55 277.04,448.86 278.05,449.55 279.05,449.43 280.05,449.09 281.06,449.93 282.06,449.98 283.06,448.71 284.06,449.52 285.07,449.13 286.07,449.95 287.07,450.07 288.07,449.61 289.08,449.74 290.08,449.62 291.08,448.95 292.08,450.19 293.09,449.49 294.09,449.16 295.09,450.03 296.09,448.81 297.10,449.57 298.10,449.48 299.10,450.01 300.11,450.01 301.11,449.28 302.11,448.98 303.11,449.59 304.12,450.12 305.12,450.31 306.12,450.32 307.12,449.17 308.13,449.30 309.13,449.87 310.13,450.21 311.13,449.37 312.14,450.24 313.14,449.23 314.14,450.46 315.14,449.84 316.15,449.79 317.15,449.92 318.15,450.51 319.16,449.62 320.16,449.89 321.16,450.11 322.16,449.88 323.17,450.56 324.17,449.47 325.17,449.26 326.17,450.37 327.18,449.84 328.18,449.40 329.18,450.59 330.18,450.37 331.19,449.44 332.19,450.25 333.19,449.73 334.19,449.34 335.20,449.38 336.20,450.00" fill="none" stroke="#111" stroke-width="1.1" stroke-linejoin="round" />
<polyline points="82.40,451.50 83.49,451.14 84.57,451.63 85.66,451.43 86.74,451.72 87.83,451.24 88.91,451.98 90.00,451.80 91.00,452.32 92.00,452.29 93.00,452.06 94.00,452.27 95.00,451.29 96.00,451.09 97.00,451.50 98.30,450.17 99.60,447.60 101.00,451.00 102.00,450.69 103.00,450.84 104.00,451.86 105.00,451.91 106.00,451.40 107.00,450.90 108.00,452.07 109.00,452.64 110.00,452.00 111.00,451.96 112.00,451.90 113.00,451.35 114.00,448.84 115.00,451.77 116.00,451.13 117.00,451.18 118.00,452.38 119.00,450.90 120.00,451.50 121.00,452.27 122.00,452.02 123.00,451.60 124.00,451.59 125.00,450.97 126.00,452.35 127.00,451.78 128.00,451.75 129.00,451.41 130.00,452.00 131.00,451.02 132.00,452.08 133.00,451.98 134.00,451.05 135.00,451.00 136.10,449.81 137.20,448.60 138.50,443.70 140.40,438.10 141.43,436.62 142.47,434.17 143.50,432.20 145.00,435.60 146.30,436.20 148.00,440.50 149.00,443.91 150.00,446.00 151.00,447.94 152.00,448.85 153.00,450.50 154.00,451.25 155.00,451.21 156.00,450.78 157.00,450.38 158.00,449.13 159.00,451.58 160.00,451.50 161.00,451.17 162.00,451.97 163.00,452.06 164.00,451.95 165.00,452.00 166.00,452.30 167.00,451.00 168.20,449.92 169.40,448.20 171.10,436.20 172.50,400.00 174.30,360.00 175.80,348.30 177.70,331.40 178.60,328.00 179.20,312.10 180.10,324.00 181.00,325.00 181.30,340.00 182.50,360.00 183.90,388.50 185.03,402.70 186.17,416.90 187.30,431.10 188.43,435.67 189.57,438.58 190.70,444.80 191.95,447.73 193.20,449.90 194.47,448.11 195.73,446.15 197.00,445.00 198.30,443.16 199.60,443.25 200.90,441.40 202.03,441.26 203.17,441.21 204.30,441.17 205.43,440.12 206.57,441.06 207.70,440.50 208.85,441.49 210.00,441.10 211.04,441.31 212.08,441.61 213.12,441.17 214.16,442.01 215.20,442.56 216.24,442.32 217.28,443.02 218.32,443.53 219.36,442.66 220.40,443.70 221.46,443.49 222.52,445.15 223.58,445.90 224.64,445.06 225.70,446.30 226.78,447.13 227.87,447.18 228.95,446.61 230.03,446.36 231.12,447.58 232.20,447.00 233.31,447.24 234.43,448.08 235.54,447.24 236.66,448.07 237.77,447.71 238.89,448.11 240.00,449.00 241.18,448.47 242.36,447.02 243.54,446.47 244.72,445.85 245.90,445.00 247.00,446.59 248.10,446.31 249.20,447.60 250.36,448.41 251.52,448.16 252.68,447.77 253.84,448.42 255.00,448.50 256.09,448.77 257.18,448.11 258.27,449.43 259.36,447.74 260.44,448.41 261.53,449.03 262.62,448.96 263.71,448.28 264.80,449.00 265.81,449.02 266.82,448.67 267.83,448.35 268.84,449.14 269.85,448.00 270.85,449.11 271.86,448.98 272.87,448.37 273.88,448.92 274.89,448.61 275.90,448.02 276.91,448.63 277.92,448.06 278.93,447.46 279.94,447.37 280.95,448.08 281.95,448.21 282.96,448.30 283.97,447.33 284.98,447.06 285.99,448.02 287.00,447.60 288.00,447.45 289.00,447.77 290.00,447.99 291.00,448.73 292.00,449.27 293.00,449.46 294.00,449.00 294.40,443.40 295.00,449.50 296.40,449.73 297.80,449.00 298.10,444.20 298.60,449.50 299.63,449.23 300.66,450.25 301.69,449.18 302.73,449.39 303.76,449.46 304.79,449.17 305.82,450.16 306.85,450.25 307.88,449.22 308.92,450.37 309.95,449.03 310.98,449.89 312.01,450.59 313.04,450.36 314.07,449.97 315.11,449.26 316.14,450.33 317.17,449.31 318.20,450.00 318.50,442.10 319.00,450.00 320.01,449.43 321.02,450.24 322.04,449.55 323.05,450.03 324.06,449.83 325.07,450.75 326.08,449.99 327.09,450.35 328.11,450.66 329.12,450.52 330.13,450.57 331.14,450.53 332.15,450.73 333.16,450.04 334.18,450.48 335.19,449.87 336.20,450.00" fill="none" stroke="#ff1a1a" stroke-width="1.15" stroke-linejoin="round" />
<polyline points="82.40,450.30 83.49,450.79 84.57,449.94 85.66,449.52 86.74,449.67 87.83,449.12 88.91,449.20 90.00,450.00 91.00,450.66 92.00,449.14 93.00,450.33 94.00,449.18 95.00,449.56 96.00,449.72 97.00,450.56 98.00,449.71 99.00,449.73 100.00,450.50 101.00,450.12 102.00,451.26 103.00,450.06 104.00,451.53 105.00,450.75 106.00,450.64 107.00,449.72 108.00,451.40 109.00,450.83 110.00,450.80 111.05,450.12 112.10,450.79 113.15,449.18 114.20,449.80 115.25,450.37 116.30,448.97 117.35,449.15 118.40,450.17 119.45,449.48 120.50,449.00 121.62,448.86 122.75,448.98 123.88,449.03 125.00,450.50 126.00,450.54 127.00,448.13 128.00,448.80 129.00,447.60 130.07,448.02 131.13,449.54 132.20,449.00 133.20,450.09 134.20,450.24 135.20,450.82 136.20,450.92 137.20,450.50 139.10,448.90 140.70,449.90 142.10,446.25 143.50,442.40 144.90,438.70 146.30,436.50 147.50,440.50 148.40,446.10 150.00,444.90 150.60,447.40 152.20,449.90 154.00,451.10 155.17,451.32 156.33,451.43 157.50,453.00 158.75,452.23 160.00,451.60 161.00,451.09 162.00,450.33 163.00,451.00 163.40,445.60 164.20,451.00 165.50,452.07 166.80,453.30 168.50,449.00 169.57,450.15 170.65,448.78 171.73,450.74 172.80,450.70 174.05,447.04 175.30,443.10 176.60,441.17 177.90,441.40 179.60,432.00 181.30,439.70 183.00,446.50 184.30,448.41 185.60,449.00 186.78,449.94 187.96,450.09 189.14,450.60 190.32,451.48 191.50,452.40 192.80,451.01 194.10,450.70 195.23,450.93 196.37,451.11 197.50,450.34 198.63,450.29 199.77,448.49 200.90,449.00 202.03,449.67 203.17,448.86 204.30,450.59 205.43,449.23 206.57,449.66 207.70,450.70 208.83,447.20 209.97,449.71 211.10,449.77 212.23,449.74 213.37,448.25 214.50,448.20 215.65,447.66 216.80,449.69 217.95,450.41 219.10,450.30 220.15,448.27 221.20,449.41 222.25,448.62 223.30,449.24 224.35,449.67 225.40,447.93 226.45,449.30 227.50,447.82 228.55,447.08 229.60,447.60 230.68,449.12 231.77,448.97 232.85,448.28 233.93,449.68 235.02,448.93 236.10,450.30 237.14,450.85 238.18,450.68 239.22,451.13 240.26,450.99 241.30,452.20 242.43,451.13 243.56,451.75 244.69,451.52 245.81,452.01 246.94,451.54 248.07,449.74 249.20,450.30 250.28,450.05 251.37,450.16 252.45,451.68 253.53,449.72 254.62,450.68 255.70,451.60 257.00,451.47 258.30,448.98 259.60,448.30 260.61,449.11 261.62,449.08 262.63,448.10 263.64,449.39 264.66,449.49 265.67,449.32 266.68,449.80 267.69,450.24 268.70,450.90 269.80,449.67 270.90,449.69 272.00,450.47 273.10,449.84 274.20,450.23 275.30,449.60 276.30,450.21 277.30,450.80 278.30,450.54 279.30,449.67 280.30,450.76 281.30,449.98 282.30,450.87 283.30,449.05 284.30,450.96 285.30,450.35 286.30,449.76 287.30,449.30 288.30,450.30 289.32,450.18 290.34,447.52 291.36,450.34 292.38,449.85 293.40,446.82 294.41,451.29 295.43,451.06 296.45,450.92 297.47,450.79 298.49,451.12 299.51,450.87 300.53,450.31 301.55,449.12 302.57,449.77 303.59,449.24 304.61,450.89 305.63,449.88 306.64,446.34 307.66,449.76 308.68,451.13 309.70,450.11 310.72,449.71 311.74,451.03 312.76,450.89 313.78,450.08 314.80,450.97 315.82,449.47 316.84,449.44 317.86,449.12 318.87,450.61 319.89,450.98 320.91,450.56 321.93,450.52 322.95,448.13 323.97,449.65 324.99,449.40 326.01,449.48 327.03,450.70 328.05,450.41 329.07,450.24 330.09,449.60 331.10,450.40 332.12,450.33 333.14,451.08 334.16,450.08 335.18,449.01 336.20,450.00" fill="none" stroke="#2f8ee0" stroke-width="1.15" stroke-linejoin="round" />
<polyline points="82.40,442.40 83.60,441.31 84.80,441.55 86.00,440.30 87.17,439.21 88.33,438.44 89.50,438.20 90.60,437.79 91.70,437.20 92.50,438.00 93.30,433.20 95.00,419.10 96.10,416.30 97.20,416.30 98.60,415.20 99.60,420.10 100.65,423.80 101.70,427.50 103.10,431.80 104.20,440.00 105.50,444.50 107.40,448.30 108.70,449.88 110.00,449.19 111.30,450.90 112.60,451.58 113.90,452.14 115.20,451.60 116.50,448.00 117.20,444.40 118.20,441.87 119.20,440.50 120.50,436.00 121.80,430.70 123.00,432.50 124.00,431.80 125.00,431.30 126.00,433.50 127.00,435.20 128.30,433.80 129.60,441.80 131.50,446.50 132.90,448.50 134.80,441.80 136.00,430.00 137.40,418.30 138.40,409.80 139.40,401.30 141.00,384.00 142.40,374.60 143.50,380.00 144.50,388.00 145.55,395.95 146.60,403.90 147.90,410.45 149.20,417.00 150.90,434.30 152.50,442.40 154.00,448.60 155.90,451.10 156.93,451.46 157.95,451.58 158.97,451.43 160.00,451.50 161.02,452.48 162.04,452.26 163.06,451.99 164.08,452.34 165.10,453.30 166.50,451.50 167.50,449.37 168.50,448.20 170.20,436.20 171.90,397.00 173.40,360.00 175.20,300.00 176.30,265.30 176.90,264.10 178.30,270.70 179.30,261.70 180.50,256.90 181.10,250.20 181.90,255.70 182.50,300.00 183.85,330.00 185.20,360.00 185.60,385.10 186.85,408.10 188.10,431.10 189.23,435.67 190.37,440.72 191.50,444.80 192.63,447.02 193.77,448.18 194.90,449.90 195.93,448.94 196.95,446.86 197.97,446.99 199.00,445.50 200.06,445.51 201.12,441.31 202.18,443.40 203.24,442.43 204.30,442.20 205.44,440.69 206.58,440.84 207.72,440.50 208.86,438.60 210.00,438.50 211.00,437.62 212.00,438.60 213.00,437.90 214.00,437.52 215.00,438.20 216.03,437.68 217.05,437.74 218.07,439.02 219.10,438.50 220.40,443.10 221.46,442.57 222.52,443.38 223.58,442.49 224.64,444.61 225.70,444.40 226.78,444.08 227.87,443.61 228.95,446.05 230.03,445.47 231.12,445.85 232.20,446.30 233.50,446.81 234.80,449.00 236.10,448.37 237.40,446.31 238.70,445.70 240.00,447.09 241.30,448.30 242.40,447.56 243.50,446.72 244.60,446.30 245.90,445.67 247.20,442.47 248.50,441.80 249.60,442.50 250.70,442.38 251.80,443.10 253.10,442.02 254.40,440.33 255.70,437.90 257.00,440.31 258.30,443.10 259.60,443.84 260.90,445.00 262.20,445.49 263.50,447.00 264.80,446.20 266.10,445.93 267.40,446.30 268.46,445.93 269.52,446.24 270.58,447.61 271.64,447.51 272.70,447.00 273.74,447.19 274.78,448.14 275.82,446.02 276.86,448.17 277.90,449.00 278.94,449.76 279.98,448.58 281.02,448.38 282.06,448.75 283.10,449.00 284.14,449.78 285.18,448.90 286.22,449.93 287.26,451.21 288.30,450.90 289.36,451.29 290.43,449.90 291.49,448.40 292.55,448.70 293.62,450.26 294.68,449.64 295.75,449.77 296.81,450.40 297.87,449.47 298.94,450.28 300.00,449.80 301.00,449.61 302.00,449.33 303.00,449.55 304.00,446.57 305.00,449.97 306.00,450.72 307.00,450.18 308.00,449.37 309.00,450.19 310.00,450.56 311.00,450.15 312.00,449.79 313.00,449.14 314.00,449.63 315.00,449.55 316.00,449.78 317.00,449.37 318.00,449.51 319.00,449.71 320.00,450.00 321.01,449.40 322.02,450.42 323.04,448.37 324.05,449.88 325.06,449.98 326.07,450.18 327.09,450.16 328.10,447.79 329.11,450.99 330.12,449.88 331.14,449.78 332.15,450.58 333.16,450.16 334.18,451.23 335.19,450.70 336.20,450.50" fill="none" stroke="#3d9d3d" stroke-width="1.15" stroke-linejoin="round" />
<text x="346.20" y="277.30" font-size="17.5" text-anchor="start" font-weight="bold" fill="#000"  textLength="26.2" lengthAdjust="spacingAndGlyphs">(D)</text>
<line x1="454.20" y1="277.60" x2="630.90" y2="277.60" stroke="#666" stroke-width="1.1" />
<line x1="630.90" y1="277.60" x2="630.90" y2="453.50" stroke="#888" stroke-width="1.5" />
<line x1="454.20" y1="453.50" x2="630.90" y2="453.50" stroke="#888" stroke-width="1.5" />
<line x1="454.20" y1="277.10" x2="454.20" y2="454.20" stroke="#777" stroke-width="1.3" />
<line x1="452.30" y1="430.40" x2="454.20" y2="430.40" stroke="#555" stroke-width="1" />
<text x="446.90" y="434.10" font-size="10.5" text-anchor="end" font-weight="normal" fill="#000" >0.0</text>
<line x1="452.30" y1="404.97" x2="454.20" y2="404.97" stroke="#555" stroke-width="1" />
<text x="446.90" y="408.67" font-size="10.5" text-anchor="end" font-weight="normal" fill="#000" >2.0e+4</text>
<line x1="452.30" y1="379.54" x2="454.20" y2="379.54" stroke="#555" stroke-width="1" />
<text x="446.90" y="383.24" font-size="10.5" text-anchor="end" font-weight="normal" fill="#000" >4.0e+4</text>
<line x1="452.30" y1="354.11" x2="454.20" y2="354.11" stroke="#555" stroke-width="1" />
<text x="446.90" y="357.81" font-size="10.5" text-anchor="end" font-weight="normal" fill="#000" >6.0e+4</text>
<line x1="452.30" y1="328.68" x2="454.20" y2="328.68" stroke="#555" stroke-width="1" />
<text x="446.90" y="332.38" font-size="10.5" text-anchor="end" font-weight="normal" fill="#000" >8.0e+4</text>
<line x1="452.30" y1="303.25" x2="454.20" y2="303.25" stroke="#555" stroke-width="1" />
<text x="446.90" y="306.95" font-size="10.5" text-anchor="end" font-weight="normal" fill="#000" >1.0e+5</text>
<line x1="452.30" y1="277.82" x2="454.20" y2="277.82" stroke="#555" stroke-width="1" />
<text x="446.90" y="281.52" font-size="10.5" text-anchor="end" font-weight="normal" fill="#000" >1.2e+5</text>
<line x1="464.30" y1="453.50" x2="464.30" y2="456.50" stroke="#555" stroke-width="1" />
<text x="464.30" y="470.90" font-size="10.5" text-anchor="middle" font-weight="normal" fill="#000" >0</text>
<line x1="485.14" y1="453.50" x2="485.14" y2="456.50" stroke="#555" stroke-width="1" />
<text x="485.14" y="470.90" font-size="10.5" text-anchor="middle" font-weight="normal" fill="#000" >2</text>
<line x1="505.98" y1="453.50" x2="505.98" y2="456.50" stroke="#555" stroke-width="1" />
<text x="505.98" y="470.90" font-size="10.5" text-anchor="middle" font-weight="normal" fill="#000" >4</text>
<line x1="526.82" y1="453.50" x2="526.82" y2="456.50" stroke="#555" stroke-width="1" />
<text x="526.82" y="470.90" font-size="10.5" text-anchor="middle" font-weight="normal" fill="#000" >6</text>
<line x1="547.66" y1="453.50" x2="547.66" y2="456.50" stroke="#555" stroke-width="1" />
<text x="547.66" y="470.90" font-size="10.5" text-anchor="middle" font-weight="normal" fill="#000" >8</text>
<line x1="568.50" y1="453.50" x2="568.50" y2="456.50" stroke="#555" stroke-width="1" />
<text x="568.50" y="470.90" font-size="10.5" text-anchor="middle" font-weight="normal" fill="#000" >10</text>
<line x1="589.34" y1="453.50" x2="589.34" y2="456.50" stroke="#555" stroke-width="1" />
<text x="589.34" y="470.90" font-size="10.5" text-anchor="middle" font-weight="normal" fill="#000" >12</text>
<line x1="610.18" y1="453.50" x2="610.18" y2="456.50" stroke="#555" stroke-width="1" />
<text x="610.18" y="470.90" font-size="10.5" text-anchor="middle" font-weight="normal" fill="#000" >14</text>
<line x1="631.02" y1="453.50" x2="631.02" y2="456.50" stroke="#555" stroke-width="1" />
<text x="631.02" y="470.90" font-size="10.5" text-anchor="middle" font-weight="normal" fill="#000" >16</text>
<text x="0.00" y="0.00" font-size="12.4" text-anchor="middle" font-weight="normal" fill="#000" transform="translate(404.1,365.75) rotate(-90)">MS intensity</text>
<text x="543.00" y="492.80" font-size="12.4" text-anchor="middle" font-weight="normal" fill="#000"  textLength="109.6" lengthAdjust="spacingAndGlyphs">Preincubation (min)</text>
<polyline points="464.30,297.30 516.40,355.50 568.50,384.00 620.60,392.80" fill="none" stroke="#333" stroke-width="0.9" stroke-linejoin="round" />
<polyline points="464.30,323.90 516.40,357.20 568.50,378.90 620.60,410.00" fill="none" stroke="#333" stroke-width="0.9" stroke-linejoin="round" />
<polyline points="464.30,376.20 516.40,379.90 568.50,391.40 620.60,425.50" fill="none" stroke="#333" stroke-width="0.9" stroke-linejoin="round" />
<circle cx="464.30" cy="297.30" r="2.8" fill="#000" stroke="#000" stroke-width="0.9"/>
<circle cx="516.40" cy="355.50" r="2.8" fill="#000" stroke="#000" stroke-width="0.9"/>
<circle cx="568.50" cy="384.00" r="2.8" fill="#000" stroke="#000" stroke-width="0.9"/>
<circle cx="620.60" cy="392.80" r="2.8" fill="#000" stroke="#000" stroke-width="0.9"/>
<circle cx="464.30" cy="323.90" r="2.8" fill="#fff" stroke="#000" stroke-width="0.9"/>
<circle cx="516.40" cy="357.20" r="2.8" fill="#fff" stroke="#000" stroke-width="0.9"/>
<circle cx="568.50" cy="378.90" r="2.8" fill="#fff" stroke="#000" stroke-width="0.9"/>
<circle cx="620.60" cy="410.00" r="2.8" fill="#fff" stroke="#000" stroke-width="0.9"/>
<polygon points="460.80,373.15 467.80,373.15 464.30,379.25" fill="#000" stroke="#000" stroke-width="0.6"/>
<polygon points="512.90,376.85 519.90,376.85 516.40,382.94" fill="#000" stroke="#000" stroke-width="0.6"/>
<polygon points="565.00,388.35 572.00,388.35 568.50,394.44" fill="#000" stroke="#000" stroke-width="0.6"/>
<polygon points="617.10,422.45 624.10,422.45 620.60,428.55" fill="#000" stroke="#000" stroke-width="0.6"/>
<circle cx="566.10" cy="290.30" r="2.8" fill="#000" stroke="#000" stroke-width="0.9"/>
<circle cx="566.10" cy="305.10" r="2.8" fill="#fff" stroke="#000" stroke-width="0.9"/>
<polygon points="563.10,318.75 570.10,318.75 566.60,324.85" fill="#000" stroke="#000" stroke-width="0.6"/>
<text x="584" y="294.6" font-size="10" fill="#000"><tspan font-weight="bold">6</tspan>, 5 μM</text>
<text x="584" y="309.2" font-size="10" fill="#000"><tspan font-weight="bold">6</tspan>, 10 μM</text>
<text x="584" y="324.4" font-size="10" fill="#000"><tspan font-weight="bold">6</tspan>, 20 μM</text>
</svg></body></html>
